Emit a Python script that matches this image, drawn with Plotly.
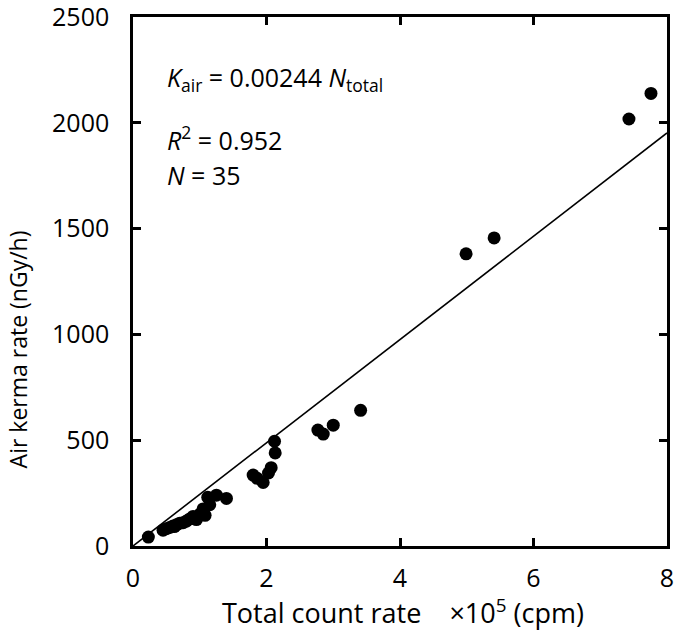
import plotly.graph_objects as go

# Measured data: total count rate (x10^5 cpm) and air kerma rate (nGy/h)
count_rate = [
    0.23, 0.45, 0.50, 0.55, 0.60, 0.62, 0.65, 0.70, 0.75,
    0.80, 0.85, 0.90, 0.95, 1.00, 1.05, 1.08, 1.12, 1.15, 1.25,
    1.40,
    1.80, 1.86, 1.95, 2.03, 2.07, 2.13, 2.12,
    2.77, 2.85, 3.00, 3.41,
    4.99, 5.41, 7.43, 7.76,
]
air_kerma = [
    42, 75, 82, 88, 95, 92, 100, 108, 110,
    118, 128, 140, 125, 150, 175, 145, 230, 195, 240,
    225,
    335, 320, 300, 345, 370, 440, 495,
    548, 529, 571, 641,
    1381, 1456, 2018, 2139,
]

fit_slope = 244  # nGy/h per 10^5 cpm  (0.00244 per cpm)
fit_x = [0, 8]
fit_y = [fit_slope * v for v in fit_x]

x_ticks = [0, 2, 4, 6, 8]
y_ticks = [0, 500, 1000, 1500, 2000, 2500]

FONT = "'Open Sans', Lato, sans-serif"

fig = go.Figure()
fig.add_trace(go.Scatter(
    x=fit_x, y=fit_y, mode="lines",
    line=dict(color="black", width=1.6), showlegend=False, hoverinfo="skip"))
fig.add_trace(go.Scatter(
    x=count_rate, y=air_kerma, mode="markers",
    marker=dict(color="black", size=13, line=dict(width=0)),
    showlegend=False, cliponaxis=True))

axis_common = dict(
    showgrid=False, zeroline=False, showline=True, linecolor="black",
    linewidth=2.5, mirror="ticks", ticks="inside", ticklen=8, tickwidth=2.5,
    tickcolor="black", tickfont=dict(family=FONT, size=25, color="black"),
    automargin=False, ticklabeloverflow="allow",
)
fig.update_xaxes(range=[0, 8], tickvals=x_ticks, ticklabelstandoff=8, **axis_common)
fig.update_yaxes(range=[0, 2500], tickvals=y_ticks, ticklabelstandoff=16, **axis_common)

fig.add_annotation(x=0.505, y=-0.124, xref="paper", yref="paper", xanchor="center", yanchor="middle",
                   text="Total count rate\u00a0\u00a0\u00a0\u00a0×10<sup>5</sup> (cpm)",
                   showarrow=False, font=dict(family=FONT, size=27, color="black"))
fig.add_annotation(x=-0.215, y=0.372, xref="paper", yref="paper", xanchor="center", yanchor="middle",
                   text="Air kerma rate (nGy/h)", textangle=-90,
                   showarrow=False, font=dict(family=FONT, size=23, color="black"))

ann_font = dict(family=FONT, size=25, color="black")
fig.add_annotation(x=0.06, y=0.884, xref="paper", yref="paper", xanchor="left", yanchor="middle",
                   text="<i>K</i><sub>air</sub> = 0.00244 <i>N</i><sub>total</sub>",
                   showarrow=False, font=ann_font)
fig.add_annotation(x=0.06, y=0.770, xref="paper", yref="paper", xanchor="left", yanchor="middle",
                   text="<i>R</i><sup>2</sup> = 0.952", showarrow=False, font=ann_font)
fig.add_annotation(x=0.06, y=0.702, xref="paper", yref="paper", xanchor="left", yanchor="middle",
                   text="<i>N</i> = 35", showarrow=False, font=ann_font)

fig.update_layout(
    width=676, height=634,
    margin=dict(l=133, r=9, t=17, b=88),
    plot_bgcolor="white", paper_bgcolor="white",
)
fig.write_html("out.html", config={"displayModeBar": False},
               post_script="document.body.style.margin='0';document.body.style.overflow='hidden';")
